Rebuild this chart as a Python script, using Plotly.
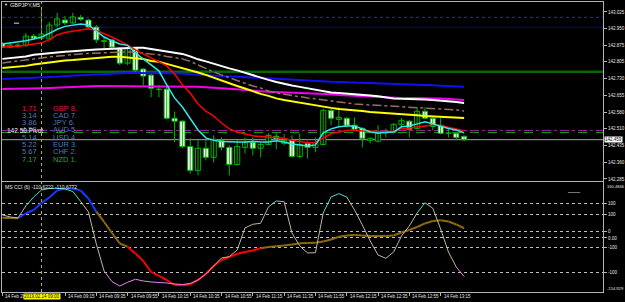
import plotly.graph_objects as go

# ---------------- data ----------------
bars = list(range(60))  # M5 bars from 14 Feb 2019 08:35
opens = [142.883, 142.869, 142.876, 142.878, 142.918, 142.909, 142.905, 142.967, 142.989, 142.976,
         143.001, 142.989, 142.958, 142.894, 142.901, 142.865, 142.798, 142.865, 142.772, 142.745,
         142.681, 142.683, 142.554, 142.541, 142.429, 142.323, 142.421, 142.381, 142.456, 142.425,
         142.349, 142.425, 142.447, 142.421, 142.438, 142.474, 142.443, 142.456, 142.385, 142.443,
         142.425, 142.438, 142.589, 142.549, 142.554, 142.523, 142.509, 142.456, 142.452, 142.490,
         142.492, 142.527, 142.541, 142.509, 142.585, 142.554, 142.523, 142.487, 142.487, 142.474]
highs = [142.892, 142.887, 142.887, 142.932, 142.927, 143.034, 142.981, 143.021, 143.007, 143.021,
         143.012, 142.994, 142.967, 142.918, 142.905, 142.869, 142.869, 142.869, 142.776, 142.750,
         142.701, 142.701, 142.584, 142.545, 142.465, 142.456, 142.456, 142.478, 142.469, 142.434,
         142.456, 142.469, 142.469, 142.443, 142.487, 142.487, 142.483, 142.478, 142.487, 142.452,
         142.469, 142.594, 142.594, 142.603, 142.558, 142.558, 142.514, 142.469, 142.523, 142.509,
         142.532, 142.554, 142.545, 142.603, 142.603, 142.558, 142.554, 142.514, 142.492, 142.478]
lows = [142.865, 142.865, 142.869, 142.869, 142.901, 142.905, 142.901, 142.958, 142.967, 142.972,
        142.985, 142.954, 142.887, 142.865, 142.865, 142.789, 142.789, 142.754, 142.696, 142.647,
        142.647, 142.549, 142.449, 142.421, 142.309, 142.301, 142.367, 142.358, 142.412, 142.301,
        142.345, 142.398, 142.389, 142.381, 142.434, 142.416, 142.434, 142.381, 142.376, 142.376,
        142.403, 142.434, 142.523, 142.514, 142.514, 142.501, 142.425, 142.443, 142.447, 142.469,
        142.487, 142.518, 142.469, 142.505, 142.549, 142.501, 142.483, 142.469, 142.456, 142.452]
closes = [142.869, 142.878, 142.878, 142.918, 142.909, 142.927, 142.967, 142.994, 142.976, 143.003,
          142.993, 142.958, 142.901, 142.898, 142.869, 142.798, 142.865, 142.767, 142.741, 142.687,
          142.683, 142.554, 142.541, 142.429, 142.323, 142.421, 142.381, 142.461, 142.425, 142.349,
          142.429, 142.447, 142.421, 142.438, 142.478, 142.461, 142.456, 142.385, 142.438, 142.425,
          142.447, 142.589, 142.554, 142.558, 142.523, 142.505, 142.465, 142.465, 142.487, 142.492,
          142.527, 142.545, 142.505, 142.585, 142.554, 142.518, 142.487, 142.489, 142.469, 142.459]

ma_cyan = [142.883, 142.888, 142.891, 142.897, 142.905, 142.914, 142.930, 142.948, 142.961, 142.967,
           142.972, 142.967, 142.941, 142.914, 142.897, 142.883, 142.877, 142.843, 142.817, 142.790,
           142.764, 142.702, 142.644, 142.604, 142.555, 142.502, 142.467, 142.456, 142.451, 142.449,
           142.449, 142.449, 142.451, 142.449, 142.449, 142.454, 142.449, 142.440, 142.434, 142.431,
           142.436, 142.489, 142.507, 142.516, 142.520, 142.520, 142.507, 142.493, 142.489, 142.491,
           142.493, 142.516, 142.520, 142.529, 142.538, 142.529, 142.518, 142.509, 142.502, 142.489]
ma_red = [142.870, 142.870, 142.872, 142.877, 142.881, 142.888, 142.901, 142.923, 142.934, 142.939,
          142.945, 142.950, 142.943, 142.930, 142.914, 142.897, 142.879, 142.857, 142.839, 142.821,
          142.804, 142.786, 142.750, 142.702, 142.666, 142.617, 142.586, 142.564, 142.533, 142.507,
          142.493, 142.485, 142.476, 142.473, 142.471, 142.469, 142.465, 142.456, 142.449, 142.445,
          142.447, 142.467, 142.485, 142.493, 142.500, 142.502, 142.498, 142.498, 142.496, 142.493,
          142.498, 142.507, 142.511, 142.516, 142.522, 142.524, 142.522, 142.516, 142.507, 142.498]
ma_white = [142.817, 142.820, 142.824, 142.828, 142.835, 142.839, 142.843, 142.846, 142.849, 142.851,
            142.852, 142.856, 142.859, 142.861, 142.863, 142.865, 142.866, 142.866, 142.866, 142.861,
            142.857, 142.850, 142.846, 142.839, 142.828, 142.815, 142.806, 142.795, 142.784, 142.775,
            142.766, 142.755, 142.744, 142.733, 142.724, 142.715, 142.706, 142.699, 142.693, 142.686,
            142.680, 142.673, 142.668, 142.666, 142.664, 142.662, 142.660, 142.655, 142.651, 142.646,
            142.642, 142.640, 142.640, 142.640, 142.637, 142.635, 142.633, 142.631, 142.626, 142.622]
ma_rosy = [142.799, 142.803, 142.807, 142.810, 142.815, 142.821, 142.826, 142.830, 142.834, 142.837,
           142.839, 142.841, 142.843, 142.845, 142.847, 142.848, 142.848, 142.846, 142.843, 142.839,
           142.835, 142.828, 142.823, 142.817, 142.806, 142.790, 142.773, 142.759, 142.746, 142.733,
           142.722, 142.708, 142.697, 142.688, 142.675, 142.666, 142.660, 142.653, 142.648, 142.644,
           142.640, 142.635, 142.629, 142.626, 142.622, 142.617, 142.615, 142.613, 142.609, 142.609,
           142.606, 142.604, 142.604, 142.602, 142.600, 142.598, 142.595, 142.593, 142.591, 142.586]
ma_yellow = [142.777, 142.779, 142.781, 142.786, 142.792, 142.797, 142.801, 142.806, 142.810, 142.812,
             142.815, 142.819, 142.821, 142.823, 142.826, 142.826, 142.823, 142.821, 142.817, 142.808,
             142.804, 142.795, 142.786, 142.777, 142.768, 142.757, 142.746, 142.733, 142.722, 142.710,
             142.697, 142.686, 142.673, 142.662, 142.653, 142.642, 142.635, 142.629, 142.622, 142.615,
             142.609, 142.604, 142.600, 142.595, 142.593, 142.589, 142.586, 142.582, 142.580, 142.575,
             142.573, 142.571, 142.569, 142.567, 142.564, 142.562, 142.560, 142.558, 142.556, 142.555]
ma_blue = [142.728, 142.729, 142.730, 142.732, 142.733, 142.735, 142.737, 142.738, 142.741, 142.743,
           142.745, 142.747, 142.749, 142.750, 142.752, 142.753, 142.754, 142.755, 142.755, 142.755,
           142.755, 142.755, 142.754, 142.752, 142.749, 142.747, 142.746, 142.745, 142.743, 142.741,
           142.739, 142.737, 142.735, 142.733, 142.730, 142.728, 142.726, 142.724, 142.722, 142.720,
           142.718, 142.717, 142.716, 142.715, 142.714, 142.713, 142.711, 142.710, 142.710, 142.708,
           142.707, 142.706, 142.705, 142.704, 142.702, 142.700, 142.698, 142.696, 142.695, 142.693]
ma_magenta = [142.684, 142.684, 142.685, 142.686, 142.687, 142.687, 142.688, 142.690, 142.692, 142.694,
              142.695, 142.696, 142.697, 142.697, 142.697, 142.697, 142.697, 142.697, 142.697, 142.697,
              142.697, 142.697, 142.696, 142.695, 142.694, 142.693, 142.692, 142.690, 142.687, 142.685,
              142.683, 142.680, 142.676, 142.674, 142.671, 142.670, 142.669, 142.668, 142.666, 142.665,
              142.664, 142.662, 142.660, 142.657, 142.655, 142.653, 142.651, 142.649, 142.648, 142.646,
              142.645, 142.644, 142.644, 142.644, 142.643, 142.642, 142.641, 142.639, 142.637, 142.635]

hline_dotted = 143.001
hline_navy = 142.957
hline_green = 142.760
hline_purple = 142.500
hline_green_dash = 142.491
bid_price = 142.459

cci_fast = [66.0, 60.2, 57.4, 92.0, 117.6, 137.7, 142.0, 142.5, 140.5, 133.4,
            104.7, 74.6, -17.0, -95.0, -125.0, -137.7, -127.0, -118.5, -123.3, -126.2,
            -127.6, -129.1, -131.9, -133.4, -130.5, -120.5, -103.2, -80.3, -57.4, -53.6,
            -34.4, 28.7, 39.3, 42.2, 89.0, 106.1, 104.1, 14.3, -22.9, -43.0,
            -42.2, 71.7, 117.6, 127.1, 117.6, 80.3, 37.3, -8.6, -48.8, -58.2,
            -40.2, 5.7, 34.4, 71.7, 101.0, 85.2, 25.8, -40.2, -83.2, -110.6]
cci_slow = [58.2, 57.4, 56.5, 70.8, 80.3, 100.4, 116.2, 136.2, 142.0, 142.0,
            136.2, 113.3, 75.4, 45.9, 14.3, -15.8, -25.0, -44.5, -66.0, -97.5,
            -109.0, -120.5, -134.8, -135.7, -133.4, -120.5, -103.2, -80.3, -63.1, -54.5,
            -45.3, -40.2, -35.9, -29.5, -25.8, -23.5, -21.5, -18.6, -15.5, -14.3,
            -13.5, -10.0, -4.3, 3.4, 7.2, 8.6, 7.2, 5.7, 5.7, 5.7,
            7.2, 15.8, 22.9, 31.5, 41.6, 48.8, 51.0, 47.3, 38.7, 27.8]
cci_max, cci_min = 160.4846, -154.929
cci_levels = [100, 66.7, 18, 0, -27.9, -100]
cci_level_text = ["100", "100", "0", "0.00", "-100", "-100"]

price_ticks = [143.025, 142.950, 142.875, 142.805, 142.730, 142.655, 142.580, 142.510, 142.435, 142.360, 142.285]
price_tick_text = ["143.025", "142.950", "142.875", "142.805", "142.730", "142.655", "142.580",
                   "142.510", "142.435", "142.360", "142.285"]
time_ticks = [0, 8, 12, 16, 20, 24, 28, 32, 36, 40, 44, 48, 52, 56]
time_tick_text = ["14 Feb 2019", "14 Feb 09:15", "14 Feb 09:35", "14 Feb 09:55", "14 Feb 10:15",
                  "14 Feb 10:35", "14 Feb 10:55", "14 Feb 11:15", "14 Feb 11:35", "14 Feb 11:55",
                  "14 Feb 12:15", "14 Feb 12:35", "14 Feb 12:55", "14 Feb 13:15"]
cross_bar = 5
cross_text = "2019.02.14 09:00"

strength_vals = ["1.71", "3.14", "3.86", "4.53", "5.14", "5.22", "5.67", "7.17"]
currencies = ["GBP", "CAD", "JPY", "AUD", "USD", "EUR", "CHF", "NZD"]
ranks = [8, 7, 6, 5, 4, 3, 2, 1]

# ---------------- figure ----------------
W, H = 625, 302
def fx(p): return p / W
def fy(p): return 1 - p / H

FONT = "Liberation Sans"
AX = "#B4B4B4"
TXT = "#E6E6E6"
CANDLE_LINE = "#00B400"

fig = go.Figure()

# wicks
wx, wy = [], []
for i in bars:
    wx += [i, i, None]
    wy += [lows[i], highs[i], None]
fig.add_trace(go.Scatter(x=wx, y=wy, mode="lines", line=dict(color=CANDLE_LINE, width=1),
                         hoverinfo="skip", xaxis="x", yaxis="y"))

# bodies
for bull in (True, False):
    idx = [i for i in bars if (closes[i] >= opens[i]) == bull]
    fig.add_trace(go.Bar(
        x=idx, base=[min(opens[i], closes[i]) for i in idx],
        y=[abs(closes[i] - opens[i]) for i in idx], width=0.66,
        marker=dict(color="#000000" if bull else "#FFFFFF", line=dict(color=CANDLE_LINE, width=1)),
        hoverinfo="skip", xaxis="x", yaxis="y"))

def ma(y, color, width, dash="solid"):
    fig.add_trace(go.Scatter(x=bars, y=y, mode="lines", line=dict(color=color, width=width, dash=dash),
                             hoverinfo="skip", xaxis="x", yaxis="y"))

ma(ma_magenta, "#F000F0", 2)
ma(ma_blue, "#1010F0", 2)
ma(ma_yellow, "#FFFF00", 2)
ma(ma_rosy, "#9A6C6C", 1.5, "dashdot")
ma(ma_white, "#FFFFFF", 2)
ma(ma_red, "#FF0000", 1.5)
ma(ma_cyan, "#30E8E8", 1.5)

def seg(vals, state, target):
    xs, ys = [], []
    for i in range(1, len(vals)):
        if state(vals[i]) == target:
            xs += [bars[i - 1], bars[i], None]
            ys += [vals[i - 1], vals[i], None]
    return xs, ys

slow_state = lambda v: "up" if v > cci_levels[1] else ("dn" if v < cci_levels[4] else "mid")
fast_state = lambda v: "up" if v > cci_levels[0] else ("dn" if v < cci_levels[5] else "mid")

for tgt, col in [("mid", "#8B6914"), ("up", "#1838FF"), ("dn", "#FF0000")]:
    xs, ys = seg(cci_slow, slow_state, tgt)
    fig.add_trace(go.Scatter(x=xs, y=ys, mode="lines", line=dict(color=col, width=2),
                             hoverinfo="skip", xaxis="x2", yaxis="y2"))
for tgt, col in [("mid", "#C0B898"), ("up", "#40E0D0"), ("dn", "#EE82EE")]:
    xs, ys = seg(cci_fast, fast_state, tgt)
    fig.add_trace(go.Scatter(x=xs, y=ys, mode="lines", line=dict(color=col, width=1),
                             hoverinfo="skip", xaxis="x2", yaxis="y2"))

shapes = []
def hline(yv, color, width, dash):
    shapes.append(dict(type="line", xref="x domain", yref="y", x0=0, x1=1, y0=yv, y1=yv,
                       line=dict(color=color, width=width, dash=dash), layer="below"))
hline(hline_dotted, "#2828C8", 1, "dot")
hline(hline_navy, "#0000A0", 1, "solid")
hline(hline_green, "#0A640A", 2.5, "solid")
hline(hline_purple, "#A020A0", 1, "dashdot")
hline(hline_green_dash, "#10A010", 1, "dash")
hline(bid_price, "#A8A8A8", 1, "solid")
shapes.append(dict(type="line", xref="x", yref="paper", x0=cross_bar, x1=cross_bar,
                   y0=fy(292), y1=fy(2), line=dict(color="#C8B000", width=1, dash="dot")))

ann = []
def text(xp, yp, t, size, color, xanchor="left", bg=None):
    d = dict(x=fx(xp), y=fy(yp), xref="paper", yref="paper", text=t, showarrow=False,
             xanchor=xanchor, yanchor="middle", font=dict(family=FONT, size=size, color=color))
    if bg:
        d["bgcolor"] = bg
        d["borderpad"] = 0
    ann.append(d)

text(2, 5, "▼", 4, TXT)
text(8, 5, "GBPJPY,M5", 5.5, TXT)
text(3, 186.5, "MS CCI (6) -110.6222 -110.6772", 5, TXT)
text(12, 22, "▬", 5, "#909090")
text(566, 191.5, "▬▬▬▬", 3, "#808080")
text(604.5, 186, f"{cci_max}", 4.1, TXT)
text(604.5, 288, f"{cci_min}", 4.1, TXT)

row_colors = ["#E01838"] + ["#4A7AB8"] * 6 + ["#30A030"]
for k in range(len(currencies)):
    yp = 108 + 7.3 * k
    text(38.5, yp, strength_vals[k], 7.5, row_colors[k], xanchor="right")
    text(50.5, yp, f"{currencies[k]} {ranks[k]}.", 7.5, row_colors[k])
text(5, 130, "142.50 Pivot", 6.5, "#F0F0F0")

# time-axis labels, left-aligned at their ticks as in the terminal
for tv, tt in zip(time_ticks, time_tick_text):
    ann.append(dict(x=tv, y=fy(296.5), xref="x", yref="paper", text=tt, showarrow=False,
                    xanchor="left", yanchor="middle", xshift=1, font=dict(family=FONT, size=4.5, color=TXT)))

ann.append(dict(x=1.0, y=bid_price, xref="x domain", yref="y", text=f"{bid_price:.3f}",
                showarrow=False, xanchor="left", yanchor="middle", xshift=1,
                bgcolor="#FFFFFF", borderpad=0, font=dict(family=FONT, size=4.5, color="#000000")))
ann.append(dict(x=cross_bar, y=fy(296.5), xref="x", yref="paper", text=cross_text, showarrow=False,
                xanchor="center", yanchor="middle", bgcolor="#FFFF00", borderpad=0,
                font=dict(family=FONT, size=4.5, color="#000000")))

tf = dict(family=FONT, size=4.5, color=TXT)
fig.update_layout(
    width=W, height=H, margin=dict(l=0, r=0, t=0, b=0), barmode="overlay",
    paper_bgcolor="#000000", plot_bgcolor="#000000", showlegend=False, hovermode=False,
    shapes=shapes, annotations=ann,
    xaxis=dict(domain=[fx(2), fx(603)], range=[-0.05, 76.75], anchor="y", showticklabels=False,
               showgrid=False, zeroline=False, showline=True, mirror=True, linecolor=AX, linewidth=1,
               ticks=""),
    xaxis2=dict(domain=[fx(2), fx(603)], range=[-0.05, 76.75], anchor="y2", matches="x",
                tickvals=time_ticks, showticklabels=False, ticks="outside", ticklen=3,
                tickcolor=AX, showgrid=False,
                zeroline=False, showline=True, mirror=True, linecolor=AX, linewidth=1, automargin=False),
    yaxis=dict(domain=[fy(181), fy(2)], range=[142.276, 143.069], anchor="x", side="right",
               tickvals=price_ticks, ticktext=price_tick_text, ticks="outside", ticklen=3,
               tickcolor=AX, tickfont=tf, showgrid=False, zeroline=False, showline=True, mirror=True,
               linecolor=AX, linewidth=1, automargin=False),
    yaxis2=dict(domain=[fy(292), fy(182)], range=[cci_min, cci_max], anchor="x2", side="right",
                tickvals=cci_levels, ticktext=cci_level_text, ticks="outside", ticklen=3,
                tickcolor=AX, tickfont=tf, showgrid=True, gridcolor="#C0C0C0", griddash="dot",
                gridwidth=1, zeroline=False, showline=True, mirror=True, linecolor=AX, linewidth=1,
                automargin=False),
)

fig.write_html("out.html")
